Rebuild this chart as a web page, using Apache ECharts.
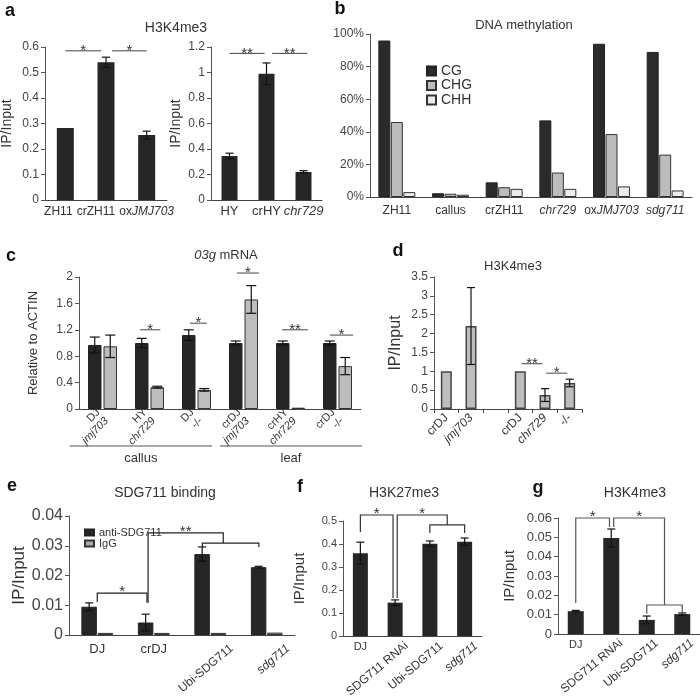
<!DOCTYPE html>
<html><head><meta charset="utf-8">
<script src="https://cdn.jsdelivr.net/npm/echarts@6/dist/echarts.min.js"></script>
<style>html,body{margin:0;padding:0;background:#fff}#c{width:700px;height:698px}</style>
</head><body><div id="c"></div>
<script>
// ---------- Panel a ----------
const aLeftCats = ['ZH11', 'crZH11', 'oxJMJ703'];
const aLeftVals = [0.282, 0.54, 0.255];
const aLeftErr = [0, 0.02, 0.015];
const aRightCats = ['HY', 'crHY', 'chr729'];
const aRightVals = [0.345, 0.99, 0.22];
const aRightErr = [0.022, 0.085, 0.01];
const aLeftSig = [[0, 0.88, 0.585, '*'], [1.15, 2, 0.585, '*']];
const aRightSig = [[0, 0.95, 1.15, '**'], [1.15, 2.1, 1.15, '**']];
// ---------- Panel b ----------
const bCats = ['ZH11', 'callus', 'crZH11', 'chr729', 'oxJMJ703', 'sdg711'];
const bCG = [0.96, 0.023, 0.09, 0.47, 0.94, 0.89];
const bCHG = [0.46, 0.02, 0.06, 0.15, 0.386, 0.26];
const bCHH = [0.03, 0.014, 0.05, 0.05, 0.065, 0.04];
// ---------- Panel c ----------
const cCats = ['DJ\njmj703', 'HY\nchr729', 'DJ\n-/-', 'crDJ\njmj703', 'crHY\nchr729', 'crDJ\n-/-'];
const cGroups = ['callus', 'leaf'];
const cGroupSpans = [[-0.7, 2.33], [2.5, 5.52]];
const cCtrl = [0.97, 1.0, 1.12, 1.0, 1.0, 1.0];
const cCtrlErr = [0.12, 0.07, 0.08, 0.03, 0.03, 0.03];
const cMut = [0.95, 0.33, 0.29, 1.66, 0.02, 0.65];
const cMutErr = [0.17, 0.015, 0.02, 0.21, 0, 0.13];
const cSig = [[0.8, 1.23, 1.2, '*'], [1.86, 2.22, 1.3, '*'], [2.86, 3.33, 2.06, '*'], [3.82, 4.37, 1.2, '**'], [4.84, 5.33, 1.12, '*']];
// ---------- Panel d ----------
const dCats = ['crDJ', 'jmj703', '', 'crDJ', 'chr729', '-/-'];
const dVals = [1.0, 2.2, null, 1.0, 0.37, 0.69];
const dErr = [0, 1.02, 0, 0, 0.17, 0.1];
const dSig = [[3.05, 3.9, 1.2, '**'], [4.05, 4.9, 0.95, '*']];
// ---------- Panel e ----------
const eCats = ['DJ', 'crDJ', 'Ubi-SDG711', 'sdg711'];
const eAnti = [0.0095, 0.0042, 0.0272, 0.0228];
const eAntiErr = [0.0013, 0.0028, 0.0024, 0.0003];
const eIgG = [0.0007, 0.0007, 0.0007, 0.0008];
const eBr = [
  {pts: [[0, 0.0111], [0, 0.0141], [0.88, 0.0141], [0.88, 0.0108]], label: '*'},
  {pts: [[0.9, 0.0108], [0.9, 0.0343], [2.23, 0.0343], [2.23, 0.0309]], label: '**'},
  {pts: [[1.86, 0.0296], [1.86, 0.0309], [2.86, 0.0309], [2.86, 0.0296]]}
];
// ---------- Panel f ----------
const fCats = ['DJ', 'SDG711 RNAi', 'Ubi-SDG711', 'sdg711'];
const fVals = [0.36, 0.145, 0.401, 0.41];
const fErr = [0.048, 0.012, 0.012, 0.016];
const fBr = [
  {pts: [[0, 0.452], [0, 0.526], [0.94, 0.526], [0.94, 0.165]], label: '*'},
  {pts: [[1.06, 0.165], [1.06, 0.526], [2.5, 0.526], [2.5, 0.483]], label: '*'},
  {pts: [[2, 0.448], [2, 0.483], [3, 0.483], [3, 0.448]]}
];
// ---------- Panel g ----------
const gCats = ['DJ', 'SDG711 RNAi', 'Ubi-SDG711', 'sdg711'];
const gVals = [0.0118, 0.0497, 0.0073, 0.0103];
const gErr = [0.0004, 0.0046, 0.002, 0.0006];
const gBr = [
  {pts: [[0, 0.016], [0, 0.06], [0.95, 0.06], [0.95, 0.0553]], label: '*'},
  {pts: [[1.07, 0.0553], [1.07, 0.06], [2.5, 0.06], [2.5, 0.015]], label: '*'},
  {pts: [[2, 0.0105], [2, 0.015], [3, 0.015], [3, 0.0105]]}
];

const FF = '"Liberation Sans", Arial, sans-serif';
const ITAL = /(JMJ703|jmj703|chr729|sdg711)/g;
const richFmt = v => String(v).replace(ITAL, '{i|$1}');
const richOf = (fs, color, lh) => ({
  i: {fontStyle: 'italic', fontSize: fs, fontFamily: FF, color: color, lineHeight: lh},
  p14: {width: 14}, p20: {width: 20}
});

function catAxis(gridIndex, data, o) {
  o = o || {};
  const fs = o.fontSize || 12;
  return {
    gridIndex, type: 'category', data, position: 'bottom', offset: o.offset || 0,
    axisLine: {show: o.line !== false, lineStyle: {color: '#444', width: 1}},
    axisTick: {show: !!o.tick, alignWithLabel: false, length: 4, lineStyle: {color: '#444'}},
    splitLine: {show: false},
    axisLabel: {
      interval: 0, hideOverlap: false, fontSize: fs, color: '#333', fontFamily: FF,
      margin: o.margin == null ? 6 : o.margin, rotate: o.rotate || 0,
      lineHeight: o.lineHeight, padding: o.padding,
      formatter: (v, i) => (o.show && !o.show(i)) ? '' : richFmt(v) + (o.pads && o.pads[i] ? '{' + o.pads[i] + '|}' : ''),
      rich: richOf(fs, '#333', o.lineHeight)
    }
  };
}
function valAxis(gridIndex, max, interval, o) {
  return {
    gridIndex, type: 'value', min: 0, max, interval,
    name: o.name || '', nameLocation: 'middle', nameGap: o.nameGap || 30, nameRotate: 90,
    nameTextStyle: {fontSize: o.nameSize || 14, color: '#333', fontFamily: FF},
    axisLine: {show: true, lineStyle: {color: '#555'}},
    axisTick: {show: true, length: 4, lineStyle: {color: '#555'}},
    splitLine: {show: false},
    axisLabel: {fontSize: o.fs || 12, color: '#444', fontFamily: FF, margin: o.margin || 6, formatter: o.fmt}
  };
}
function bar(xi, yi, data, w, color, extra) {
  return Object.assign({type: 'bar', xAxisIndex: xi, yAxisIndex: yi, data: data, barWidth: w,
    itemStyle: {color: color}, silent: true, animation: false}, extra || {});
}
function err(xi, yi, vals, errs, offset, cap) {
  return {
    type: 'custom', xAxisIndex: xi, yAxisIndex: yi, silent: true, z: 5, animation: false,
    data: vals.map((v, i) => [i, v, errs[i]]),
    renderItem: (params, api) => {
      const i = api.value(0), v = api.value(1), e = api.value(2);
      if (!e || isNaN(v)) return null;
      const t = api.coord([i, v + e]), b = api.coord([i, v - e]);
      const x = t[0] + offset;
      const st = {stroke: '#111', lineWidth: 1.2};
      return {type: 'group', children: [
        {type: 'line', shape: {x1: x, y1: t[1], x2: x, y2: b[1]}, style: st},
        {type: 'line', shape: {x1: x - cap, y1: t[1], x2: x + cap, y2: t[1]}, style: st},
        {type: 'line', shape: {x1: x - cap, y1: b[1], x2: x + cap, y2: b[1]}, style: st}
      ]};
    }
  };
}

const grids = [
  {left: 45, top: 47, width: 122, height: 153},
  {left: 211, top: 47, width: 111, height: 153},
  {left: 370, top: 34, width: 322, height: 163},
  {left: 79, top: 277, width: 282, height: 132},
  {left: 434, top: 277, width: 148, height: 132},
  {left: 69, top: 516, width: 226, height: 119},
  {left: 343, top: 521, width: 139, height: 115},
  {left: 558, top: 518, width: 142, height: 116}
].map(g => Object.assign({containLabel: false, outerBoundsMode: 'none'}, g));

const xAxes = [
  catAxis(0, aLeftCats, {fontSize: 12, margin: 6, pads: ['p14', 'p20', null]}),
  catAxis(1, aRightCats, {fontSize: 13, margin: 5}),
  catAxis(2, bCats, {fontSize: 12, margin: 8}),
  catAxis(3, cCats, {fontSize: 11, rotate: 45, margin: 6, lineHeight: 12}),
  catAxis(3, cCats, {line: false, show: () => false}),
  catAxis(4, dCats, {fontSize: 12, rotate: 45, margin: 7, tick: true}),
  catAxis(5, eCats, {fontSize: 13, margin: 8, show: i => i < 2}),
  catAxis(5, eCats, {fontSize: 12, rotate: 40, margin: 30, line: false, show: i => i >= 2, padding: [0, -28, 0, 0]}),
  catAxis(6, fCats, {fontSize: 11, margin: 5, show: i => i < 1}),
  catAxis(6, fCats, {fontSize: 12, rotate: 40, margin: 18, line: false, show: i => i >= 1, padding: [0, -15, 0, 0]}),
  catAxis(7, gCats, {fontSize: 11, margin: 5, show: i => i < 1}),
  catAxis(7, gCats, {fontSize: 12, rotate: 40, margin: 16, line: false, show: i => i >= 1, padding: [0, -13, 0, 0]})
];
const yAxes = [
  valAxis(0, 0.6, 0.1, {name: 'IP/Input', nameGap: 31, nameSize: 14, fs: 12}),
  valAxis(1, 1.2, 0.2, {name: 'IP/Input', nameGap: 28, nameSize: 14, fs: 12}),
  valAxis(2, 1, 0.2, {fs: 12, fmt: v => Math.round(v * 100) + '%'}),
  valAxis(3, 2, 0.4, {name: 'Relative to ACTIN', nameGap: 39, nameSize: 13, fs: 12}),
  valAxis(4, 3.5, 0.5, {name: 'IP/Input', nameGap: 30, nameSize: 16, fs: 12}),
  valAxis(5, 0.04, 0.01, {name: 'IP/Input', nameGap: 33, nameSize: 17, fs: 16}),
  valAxis(6, 0.5, 0.1, {name: 'IP/Input', nameGap: 36, nameSize: 15, fs: 11}),
  valAxis(7, 0.06, 0.01, {name: 'IP/Input', nameGap: 41, nameSize: 15, fs: 13})
];

const dark = '#262626';
const series = [
  bar(0, 0, aLeftVals, 17, dark), err(0, 0, aLeftVals, aLeftErr, 0, 4),
  bar(1, 1, aRightVals, 16, dark), err(1, 1, aRightVals, aRightErr, 0, 4),
  bar(2, 2, bCG, 12, '#2b2b2b', {name: 'CG', barGap: '4%', itemStyle: {color: '#2b2b2b', borderColor: '#222', borderWidth: 1}}),
  bar(2, 2, bCHG, 12, '#bcbcbc', {name: 'CHG', barGap: '4%', itemStyle: {color: '#bcbcbc', borderColor: '#333', borderWidth: 1}}),
  bar(2, 2, bCHH, 12, '#ececec', {name: 'CHH', barGap: '4%', itemStyle: {color: '#ececec', borderColor: '#333', borderWidth: 1}}),
  bar(3, 3, cCtrl, 13.5, dark, {barGap: '15%', itemStyle: {color: dark, borderColor: '#222', borderWidth: 1}}),
  bar(3, 3, cMut, 13.5, '#bdbdbd', {barGap: '15%', itemStyle: {color: '#bdbdbd', borderColor: '#333', borderWidth: 1}}),
  err(3, 3, cCtrl, cCtrlErr, -7.76, 5), err(3, 3, cMut, cMutErr, 7.76, 5),
  bar(5, 4, dVals, 11, '#bdbdbd', {itemStyle: {color: '#bdbdbd', borderColor: '#444', borderWidth: 1.5}}),
  err(5, 4, dVals, dErr, 0, 4),
  bar(6, 5, eAnti, 15.5, dark, {name: 'anti-SDG711', barGap: '5%', itemStyle: {color: dark, borderColor: '#222', borderWidth: 1}}),
  bar(6, 5, eIgG, 15.5, '#aaaaaa', {name: 'IgG', barGap: '5%', itemStyle: {color: '#aaaaaa', borderColor: '#333', borderWidth: 1}}),
  err(6, 5, eAnti, eAntiErr, -8.1, 4),
  bar(8, 6, fVals, 15, dark), err(8, 6, fVals, fErr, 0, 4),
  bar(10, 7, gVals, 16, dark), err(10, 7, gVals, gErr, 0, 4)
];

const option = {
  backgroundColor: '#fff',
  animation: false,
  grid: grids,
  xAxis: xAxes,
  yAxis: yAxes,
  legend: [
    {data: ['CG', 'CHG', 'CHH'], orient: 'vertical', left: 421, top: 59, itemWidth: 9, itemHeight: 9, itemGap: 0.5,
      icon: 'rect', selectedMode: false, textStyle: {fontSize: 14, lineHeight: 12, color: '#333', fontFamily: FF}},
    {data: ['anti-SDG711', 'IgG'], orient: 'vertical', left: 79, top: 522, itemWidth: 9, itemHeight: 6, itemGap: 0,
      icon: 'rect', selectedMode: false, textStyle: {fontSize: 11, lineHeight: 7, color: '#333', fontFamily: FF}}
  ],
  series: series
};

const chart = echarts.init(document.getElementById('c'));
chart.setOption(option);

function toPx(xi, yi, x, y) {
  const a = chart.convertToPixel({xAxisIndex: xi, yAxisIndex: yi}, [0, y]);
  const b = chart.convertToPixel({xAxisIndex: xi, yAxisIndex: yi}, [1, y]);
  return [a[0] + (b[0] - a[0]) * x, a[1]];
}
function T(x, y, text, size, o) {
  o = o || {};
  return {type: 'text', x: x, y: y, silent: true, z: 10,
    style: {text: text, fontSize: size, fontFamily: FF, fill: o.fill || '#333', fontWeight: o.bold ? 'bold' : 'normal',
      align: o.align || 'center', verticalAlign: o.va || 'middle', rich: o.rich}};
}
const gfx = [];
// titles
gfx.push(T(176, 28, 'H3K4me3', 14));
gfx.push(T(524, 25, 'DNA methylation', 13));
gfx.push(T(226, 255, '{i|03g} mRNA', 13, {rich: {i: {fontStyle: 'italic', fontSize: 13, fontFamily: FF, fill: '#333'}}}));
gfx.push(T(513, 266, 'H3K4me3', 13));
gfx.push(T(165, 493, 'SDG711 binding', 14));
gfx.push(T(404, 493, 'H3K27me3', 14));
gfx.push(T(635, 493, 'H3K4me3', 14));
// panel letters
[['a', 10, 11], ['b', 340, 9], ['c', 11, 256], ['d', 398, 251], ['e', 12, 486], ['f', 300, 487], ['g', 538, 488]]
  .forEach(l => gfx.push(T(l[1], l[2], l[0], 18, {bold: true, fill: '#111'})));

// flat significance lines
function flatSig(xi, yi, list, color) {
  list.forEach(s => {
    const p1 = toPx(xi, yi, s[0], s[2]), p2 = toPx(xi, yi, s[1], s[2]);
    gfx.push({type: 'line', silent: true, z: 10, shape: {x1: p1[0], y1: p1[1], x2: p2[0], y2: p2[1]}, style: {stroke: color, lineWidth: 1}});
    gfx.push(T((p1[0] + p2[0]) / 2, p1[1], s[3], 15, {fill: '#333'}));
  });
}
flatSig(0, 0, aLeftSig, '#444');
flatSig(1, 1, aRightSig, '#444');
flatSig(3, 3, cSig, '#444');
flatSig(5, 4, dSig, '#444');

// brackets
function brackets(xi, yi, list, color) {
  list.forEach(b => {
    const pts = b.pts.map(p => toPx(xi, yi, p[0], p[1]));
    gfx.push({type: 'polyline', silent: true, z: 10, shape: {points: pts}, style: {stroke: color, lineWidth: 1.2, fill: null}});
    if (b.label) gfx.push(T((pts[1][0] + pts[2][0]) / 2, pts[1][1] - 1, b.label, 15, {fill: '#333'}));
  });
}
brackets(6, 5, eBr, '#222');
brackets(8, 6, fBr, '#333');
brackets(10, 7, gBr, '#555');

// callus / leaf group labels with underlines
cGroups.forEach((g, i) => {
  const s = cGroupSpans[i];
  const p1 = toPx(3, 3, s[0], 0), p2 = toPx(3, 3, s[1], 0);
  const y = p1[1] + 37;
  gfx.push({type: 'line', silent: true, shape: {x1: p1[0], y1: y, x2: p2[0], y2: y}, style: {stroke: '#555', lineWidth: 1.2}});
  gfx.push(T((p1[0] + p2[0]) / 2, y + 12, g, 13, {fill: '#333'}));
});

chart.setOption({graphic: gfx});
</script></body></html>
